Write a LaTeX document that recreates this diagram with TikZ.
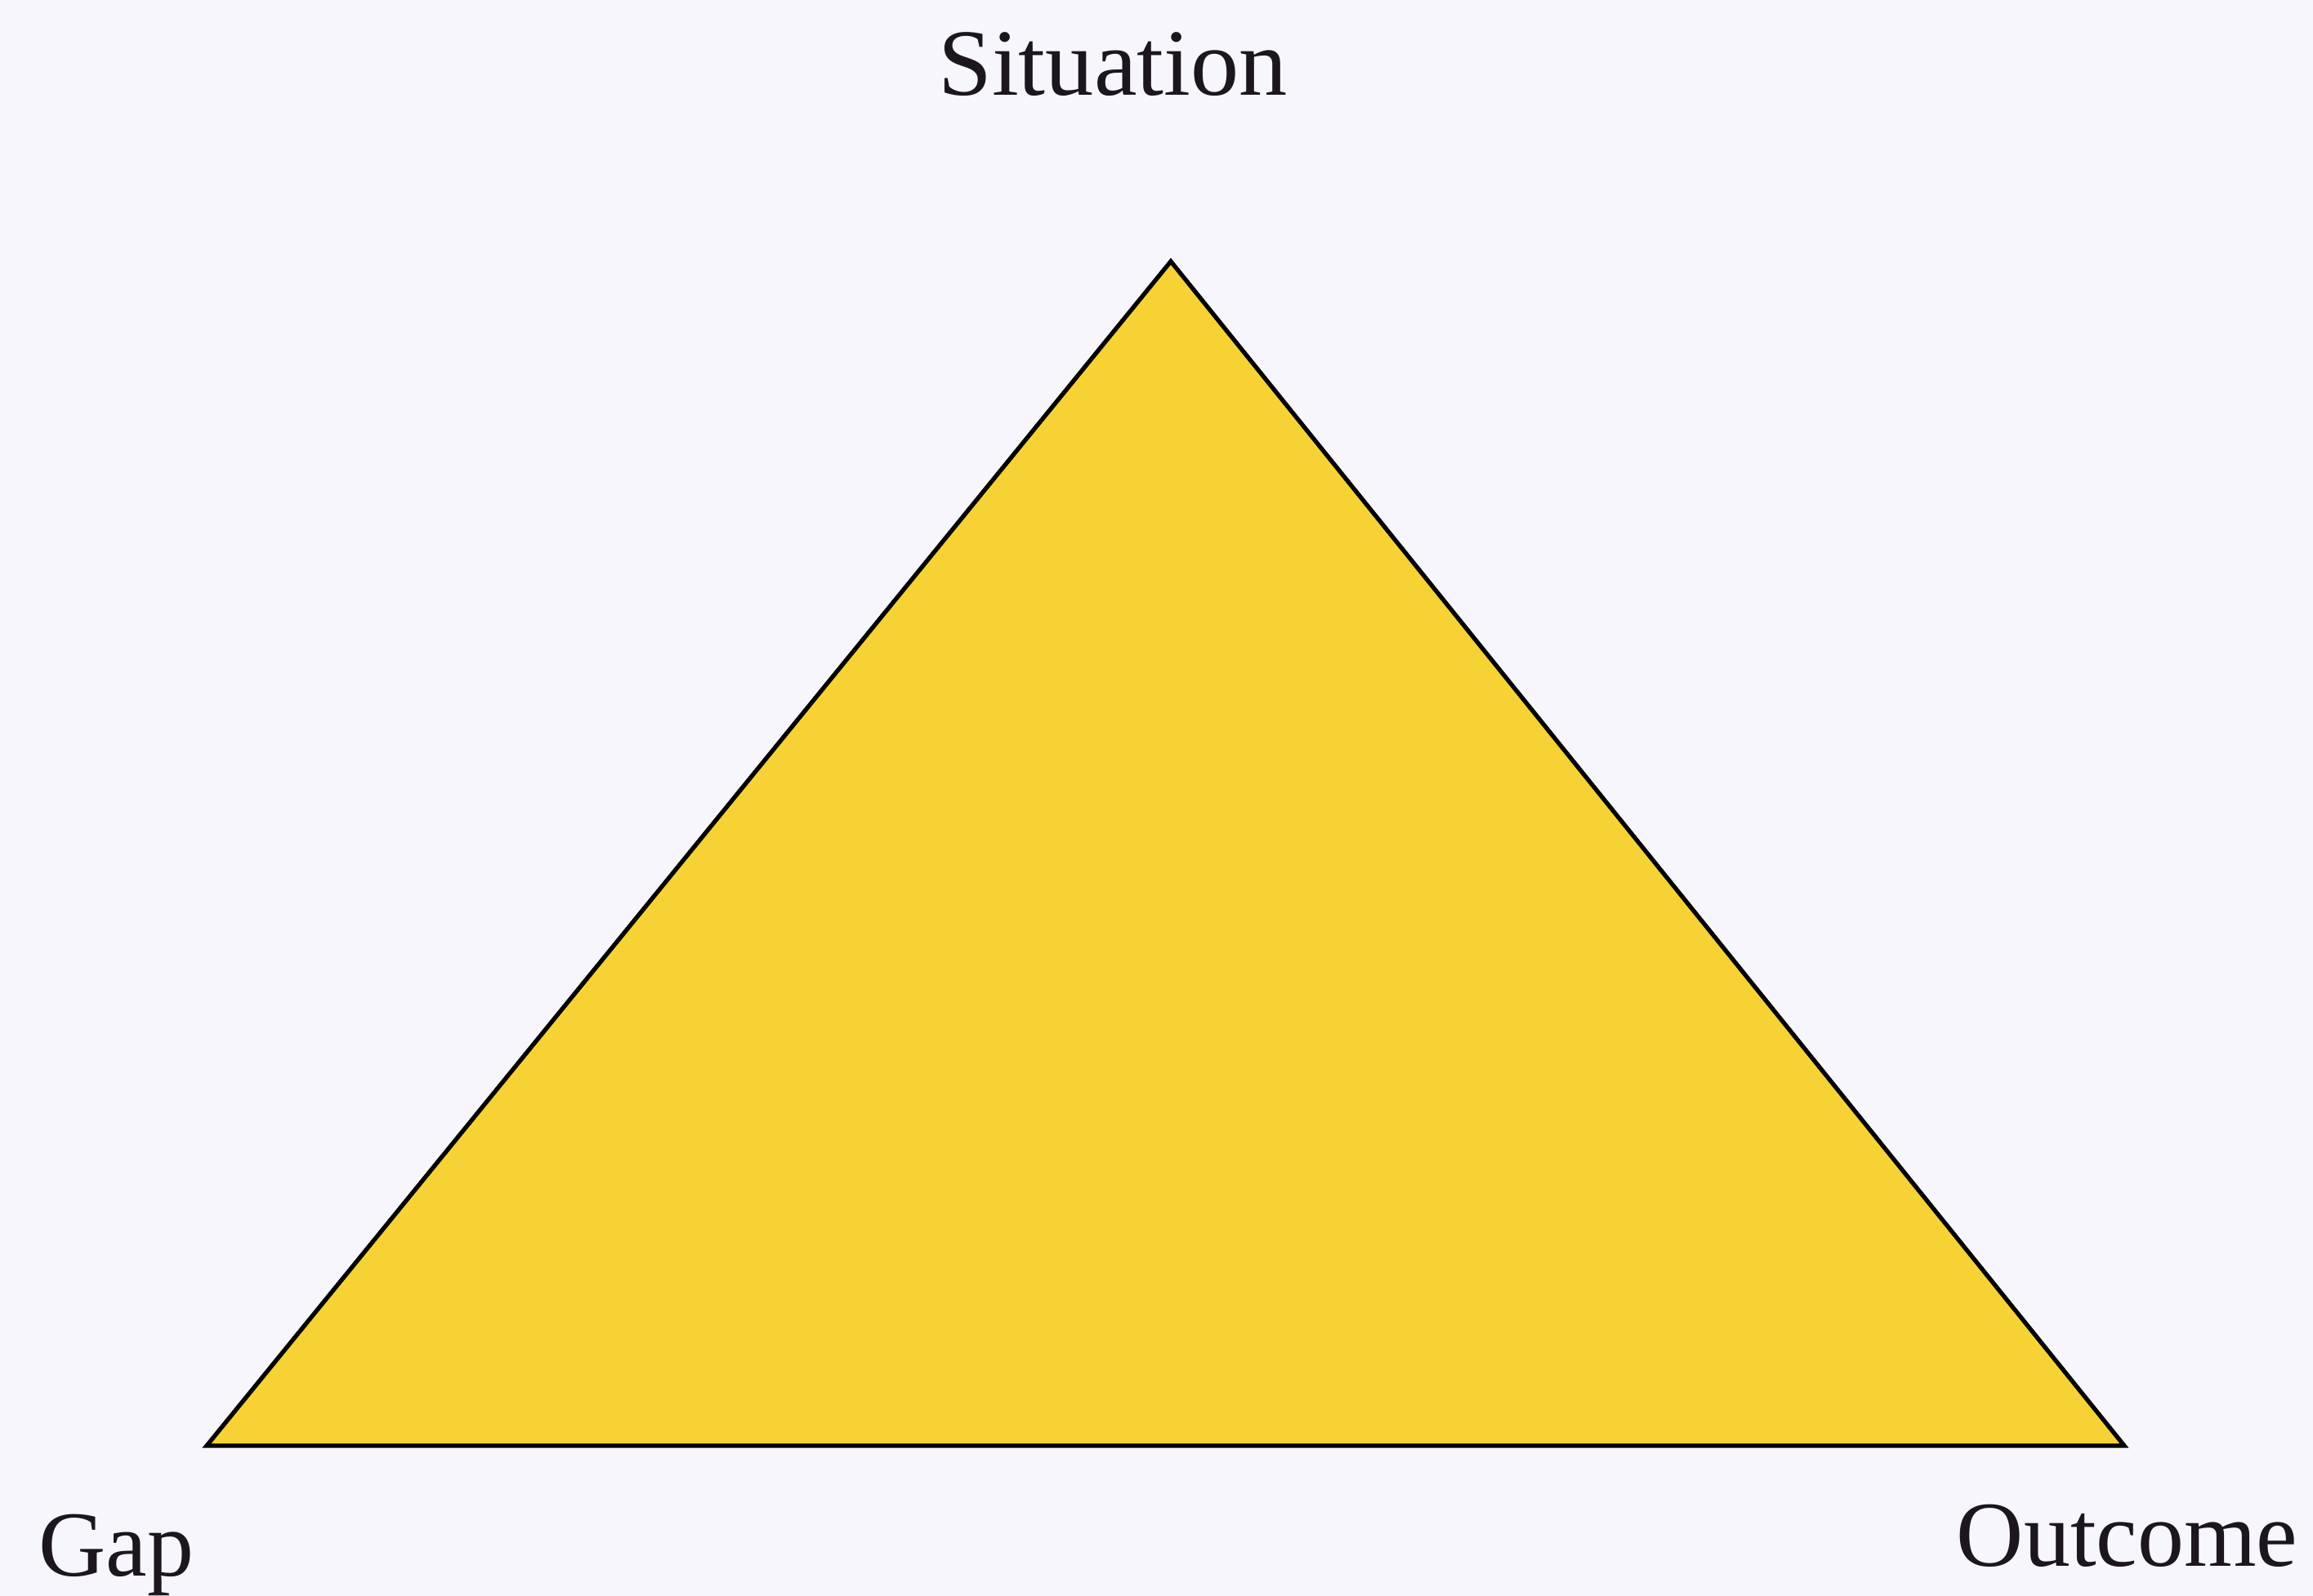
\documentclass[tikz,border=0pt]{standalone}
\usepackage{fontspec}
\setmainfont{Liberation Serif}
\definecolor{bgcol}{RGB}{247,246,252}
\definecolor{trifill}{RGB}{247,210,52}
\definecolor{txtcol}{RGB}{28,22,30}
\begin{document}
\begin{tikzpicture}[
  lbl/.style={inner sep=0pt, text=txtcol, font=\fontsize{32.4}{38}\selectfont},
  tri/.style={draw=black, line width=1.5pt, fill=trifill, line join=miter}
]
\fill[bgcol] (0,0) rectangle (28.31,19.54);
\useasboundingbox (0,0) rectangle (28.31,19.54);
\coordinate (apex) at (14.33,16.34);
\coordinate (bl) at (2.53,1.84);
\coordinate (br) at (26.00,1.84);
\draw[tri] (apex) -- (bl) -- (br) -- cycle;
\node[lbl, anchor=base, xscale=1.04, yscale=1.02] (situation) at (13.62,18.37) {Situation};
\node[lbl, anchor=base west] (gap) at (0.47,0.24) {Gap};
\node[lbl, anchor=base east] (outcome) at (28.13,0.36) {Outcome};
\end{tikzpicture}
\end{document}
